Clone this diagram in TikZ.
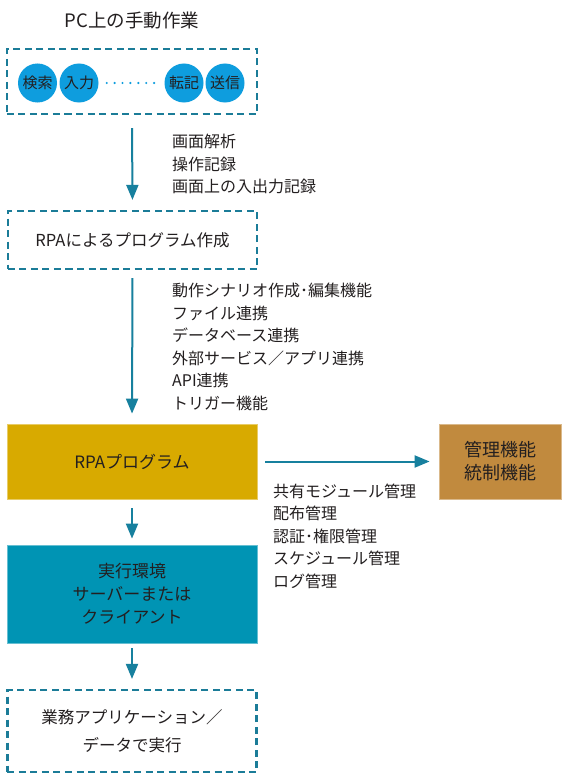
\documentclass[tikz,border=0pt]{standalone}
\usepackage{fontspec}
\setmainfont{Noto Sans CJK JP}
\usetikzlibrary{arrows.meta}
\definecolor{dashc}{HTML}{1B7C98}
\definecolor{arrc}{HTML}{17809E}
\definecolor{circc}{HTML}{0E9DDE}
\definecolor{goldc}{HTML}{D8AA00}
\definecolor{tealc}{HTML}{0094B4}
\definecolor{brownc}{HTML}{C18A3E}
\definecolor{txtc}{HTML}{231F20}
\tikzset{
  dbox/.style={draw=dashc, line width=2.2bp, dash pattern=on 7bp off 4.5bp, minimum width=#1, inner sep=0pt, text=txtc, align=center, font=\fontsize{16.5bp}{23bp}\selectfont},
  fbox/.style={minimum width=250bp, inner sep=0pt, text=txtc, align=center, font=\fontsize{17bp}{23bp}\selectfont},
  circ/.style={circle, fill=circc, minimum size=39bp, inner sep=0pt, text=txtc, font=\fontsize{15bp}{17bp}\selectfont},
  arr/.style={draw=arrc, line width=2bp, -{Triangle[length=15bp,width=12bp]}},
  lbl/.style={anchor=west, align=left, inner sep=0pt, text=txtc, font=\fontsize{16bp}{22.5bp}\selectfont},
}
\begin{document}
\begin{tikzpicture}[x=1bp, y=-1bp]
\useasboundingbox[fill=white] (0,0) rectangle (575,781);
\node[text=txtc, font=\fontsize{18.5bp}{22bp}\selectfont] (title) at (132,21) {PC上の手動作業};
\node[dbox=250bp, minimum height=65bp] (top) at (132,81.5) {};
\node[circ] (c1) at (37.5,83) {検索};
\node[circ] (c2) at (79,83) {入力};
\node[circ] (c3) at (184,83) {転記};
\node[circ] (c4) at (225,83) {送信};
\draw[circc, line width=2.4bp, line cap=round, dash pattern=on 0bp off 7.9bp, shorten <=8bp, shorten >=10bp] (c2.east) -- (c3.west);

\node[dbox=249bp, minimum height=58bp] (prog) at (132.5,240) {RPAによるプログラム作成};
\node[fbox, fill=goldc, draw=goldc!60!white, line width=0.8bp, minimum height=75bp] (rpa) at (132,461.5) {RPAプログラム};
\node[fbox, fill=tealc, draw=tealc!60!white, line width=0.8bp, minimum height=98bp] (exec) at (132,594) {実行環境\\サーバーまたは\\クライアント};
\node[fbox, minimum width=122bp, fill=brownc, draw=brownc!60!white, line width=0.8bp, minimum height=75bp, font=\fontsize{18bp}{23bp}\selectfont] (mgmt) at (500,461.5) {管理機能\\統制機能};
\node[dbox=249bp, minimum height=82bp, font=\fontsize{16.5bp}{28bp}\selectfont] (app) at (132,731) {業務アプリケーション／\\データで実行};

\draw[arr, shorten <=13bp, shorten >=10bp] (top.south) -- (prog.north);
\draw[arr, shorten <=8bp, shorten >=10bp] (prog.south) -- (rpa.north);
\draw[arr, shorten <=9bp, shorten >=6bp] (rpa.south) -- (exec.north);
\draw[arr, shorten <=5bp, shorten >=10bp] (exec.south) -- (app.north);
\draw[arr, shorten <=8bp, shorten >=9bp] (rpa.east) -- (mgmt.west);

\node[lbl] (l1) at (172,164) {画面解析\\操作記録\\画面上の入出力記録};
\node[lbl] (l2) at (172,347) {動作シナリオ作成･編集機能\\ファイル連携\\データベース連携\\外部サービス／アプリ連携\\API連携\\トリガー機能};
\node[lbl] (l3) at (273,536) {共有モジュール管理\\配布管理\\認証･権限管理\\スケジュール管理\\ログ管理};
\end{tikzpicture}
\end{document}
